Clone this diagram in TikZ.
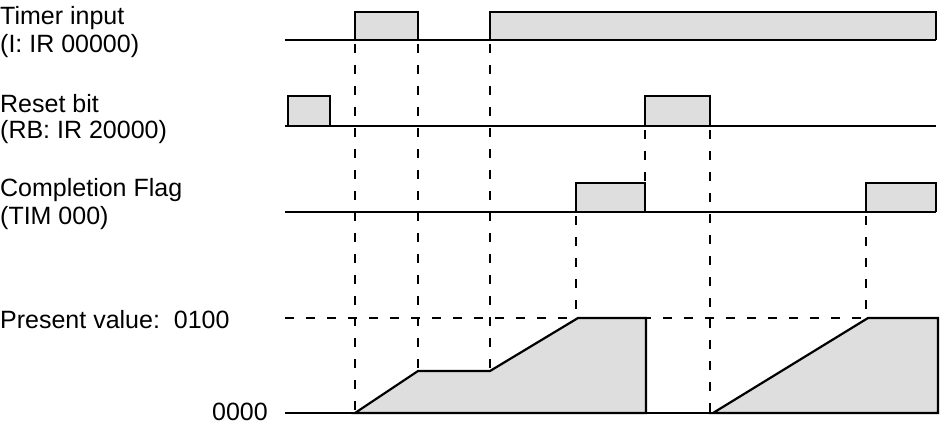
\documentclass[tikz,border=0pt]{standalone}
\usepackage{fontspec}
\setmainfont{Liberation Sans}
\usetikzlibrary{positioning}
\tikzset{
  sig/.style={line width=2.2pt, line join=miter},
  pulse/.style={sig, fill=black!13},
  guide/.style={line width=1.8pt, dash pattern=on 9pt off 12pt},
  lbl/.style={anchor=west, inner sep=0pt, font=\fontsize{25}{29}\selectfont}
}
\begin{document}
\begin{tikzpicture}[x=1pt, y=-1pt]
    \useasboundingbox (0,0) rectangle (945,425);

    % labels
    \node[lbl] (timer)  at (0,18)  {Timer input};
    \node[lbl] (timeri) at (0,46)  {(I: IR 00000)};
    \node[lbl] (reset)  at (0,104) {Reset bit};
    \node[lbl] (reseti) at (0,132) {(RB: IR 20000)};
    \node[lbl] (comp)   at (0,190) {Completion Flag};
    \node[lbl] (compi)  at (0,218) {(TIM 000)};
    \node[lbl] (pv)     at (0,320) {Present value:\ \ 0100};
    \node[lbl, anchor=east] (zero) at (268,412) {0000};

    % dashed guides
    \draw[guide] (285,318) -- (938,318);
    \foreach \x in {355,418,490} \draw[guide] (\x,44) -- (\x,413);
    \draw[guide] (576,216) -- (576,413);
    \draw[guide] (645,130) -- (645,212);
    \draw[guide] (710,130) -- (710,413);
    \draw[guide] (866,216) -- (866,318);

    % timer input
    \draw[pulse] (355,40) -- (355,12) -- (418,12) -- (418,40);
    \draw[pulse] (490,40) -- (490,12) -- (936,12) -- (936,40);
    \draw[sig] (285,40) -- (936,40);

    % reset bit
    \draw[pulse] (288,126) -- (288,96) -- (330,96) -- (330,126);
    \draw[pulse] (645,126) -- (645,96) -- (710,96) -- (710,126);
    \draw[sig] (285,126) -- (936,126);

    % completion flag
    \draw[pulse] (576,212) -- (576,183) -- (645,183) -- (645,212);
    \draw[pulse] (866,212) -- (866,183) -- (936,183) -- (936,212);
    \draw[sig] (285,212) -- (936,212);

    % present value
    \draw[pulse] (355,413) -- (418,371) -- (490,371) -- (578,318) -- (646,318) -- (646,413) -- cycle;
    \draw[pulse] (713,413) -- (868,318) -- (938,318) -- (938,413) -- cycle;
    \draw[sig] (285,413) -- (938,413);
\end{tikzpicture}
\end{document}
